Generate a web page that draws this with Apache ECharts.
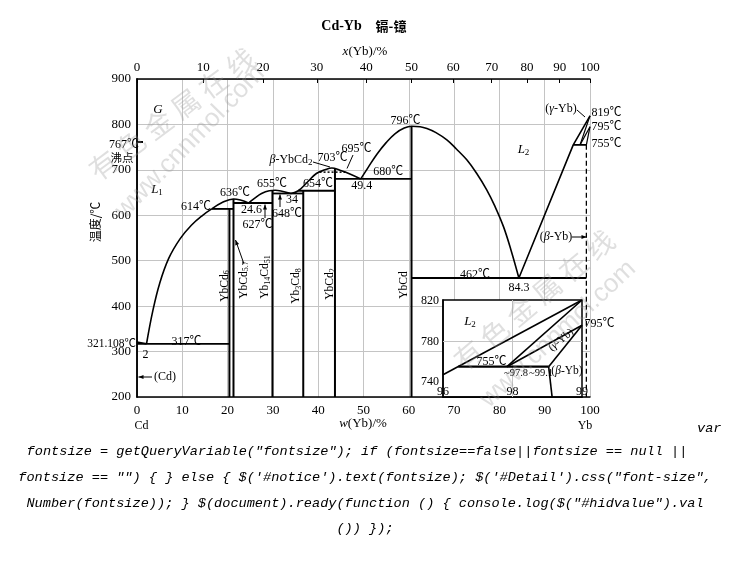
<!DOCTYPE html>
<html><head><meta charset="utf-8">
<script src="https://cdn.jsdelivr.net/npm/echarts/dist/echarts.min.js"></script>
<style>html,body{margin:0;padding:0;background:#fff}#c{width:730px;height:578px}</style>
</head><body><div id="c"></div>
<script>
// ---------- DATA (w(Yb) %, temperature °C) ----------
const topTickLabels = [0, 10, 20, 30, 40, 50, 60, 70, 80, 90, 100];          // x(Yb) at.%
const topTickPositions = [0, 14.6, 27.8, 39.7, 50.6, 60.6, 69.8, 78.3, 86.1, 93.3, 100]; // same ticks on w(Yb) scale

const liquidusCd = [[0, 321.1], [2.1, 317]];
const liquidusL1 = [[2.1, 317], [3.5, 390], [5, 450], [7, 505], [9.5, 548], [12, 578], [14.5, 600], [16.5, 614]];
const liquidusYbCd57 = [[16.5, 614], [18.8, 628], [21.3, 636], [23, 633], [24.6, 627]];
const liquidusYb14Cd51 = [[24.6, 627], [26, 638], [27.5, 648], [29.2, 654], [30.5, 655], [32, 653], [34, 648]];
const liquidusYbCd2 = [[34, 648], [35.6, 654], [37.8, 675], [39.6, 692], [41.5, 700], [43, 704], [44.8, 699], [47, 691], [49.4, 680]];
const liquidusYbCd = [[49.4, 680], [51, 705], [53, 735], [55, 760], [57, 780], [59, 792], [60.6, 796], [62.5, 795], [64, 791], [66, 782], [68.4, 766], [70.5, 746], [72.8, 722], [75, 692], [77.2, 656], [79, 620], [80.9, 575], [82.6, 522], [84.3, 462]];
const liquidusYb = [[84.3, 462], [96.3, 755], [100, 819]];
const gammaSolidus = [[97.8, 755], [100, 819]];
const gammaSolvus = [[97.8, 755], [100, 795]];
const betaGamma = [[99.2, 755], [100, 795]];
const betaSolvus = [[99.2, 755], [99.2, 200]];
const transition695 = [[40.3, 695], [46, 695]];

const compoundNames = ['YbCd6', 'YbCd5.7', 'Yb14Cd51', 'Yb3Cd8', 'YbCd2', 'YbCd'];
const compoundW = [20.4, 21.3, 29.9, 36.7, 43.7, 60.6];
const compoundTop = [614, 636, 655, 654, 704, 796];

const invariantT = [317, 614, 627, 648, 654, 680, 462, 755];
const invariantFrom = [0, 16.5, 21.3, 29.9, 35.6, 43.7, 60.6, 96.3];
const invariantTo = [20.4, 21.3, 29.9, 36.7, 43.7, 60.6, 99.2, 99.2];

// inset (schematic composition axis 96 / 98 / 99)
const insetXTickLabels = ['96', '98', '99'];
const insetYTicks = [740, 780, 820];
const insetLiquidus = [[0, 747], [2, 821]];
const inset755 = [[0.22, 755], [1.52, 755]];
const insetGammaSolidus = [[0.92, 755], [2, 821]];
const insetGammaSolvus = [[0.92, 755], [2, 796]];
const insetBetaGamma = [[1.52, 755], [2, 796]];
const insetBetaSolvus = [[1.52, 755], [1.57, 725]];

// ---------- STYLE / BUILD ----------
const SERIF = "'Liberation Serif','Times New Roman','Noto Sans CJK SC',serif";
const CJK = "'Noto Sans CJK SC','Liberation Serif',sans-serif";
const MONO = "'Liberation Mono','DejaVu Sans Mono',monospace";
const GRID_C = '#c4c4c4';

function ln(data, o) {
  o = o || {};
  return {
    type: 'line', data: data, xAxisIndex: o.xi || 0, yAxisIndex: o.yi || 0,
    symbol: 'none', showSymbol: false, silent: true, animation: false,
    smooth: o.smooth || false, z: o.z || 3,
    lineStyle: { color: '#000', width: o.w || 1.6, type: o.type || 'solid' }
  };
}

const series = [];
series.push(ln(liquidusCd));
series.push(ln(liquidusL1, { smooth: 0.4 }));
series.push(ln(liquidusYbCd57, { smooth: 0.4 }));
series.push(ln(liquidusYb14Cd51, { smooth: 0.4 }));
series.push(ln(liquidusYbCd2, { smooth: 0.4 }));
series.push(ln(liquidusYbCd, { smooth: 0.4 }));
series.push(ln(liquidusYb));
series.push(ln(gammaSolidus, { w: 1.2 }));
series.push(ln(gammaSolvus, { w: 1.2 }));
series.push(ln(betaGamma, { w: 1.2 }));
series.push(ln(betaSolvus, { w: 1.3, type: [5, 3] }));
series.push(ln(transition695, { w: 1.5, type: [2, 2] }));
compoundW.forEach(function (w, i) { series.push(ln([[w, 200], [w, compoundTop[i]]], { w: 2 })); });
invariantT.forEach(function (t, i) { series.push(ln([[invariantFrom[i], t], [invariantTo[i], t]], { w: 1.8 })); });

// inset series
const insetOpt = { xi: 2, yi: 2, z: 8, w: 1.6 };
const insetLines = [insetLiquidus, inset755, insetGammaSolidus, insetGammaSolvus, insetBetaGamma, insetBetaSolvus];
insetLines.forEach(function (d, i) {
  const s = ln(d, Object.assign({}, insetOpt, { w: i === 1 ? 2.2 : 1.6 }));
  if (i === 0) {
    s.markLine = {
      silent: true, symbol: 'none', animation: false, z: 7,
      label: { show: false },
      lineStyle: { color: GRID_C, width: 1, type: 'solid' },
      data: [{ yAxis: insetYTicks[1] }, { xAxis: 1 }]
    };
  }
  series.push(s);
});

// ---------- graphic helpers ----------
function rich(fs) {
  return {
    s: { fontSize: Math.round(fs * 0.72), fontFamily: SERIF, fill: '#000', verticalAlign: 'bottom', lineHeight: Math.round(fs * 0.8) },
    i: { fontSize: fs, fontFamily: SERIF, fontStyle: 'italic', fill: '#000', lineHeight: fs + 2 },
    n: { fontSize: fs, fontFamily: SERIF, fill: '#000', lineHeight: fs + 2 }
  };
}
function T(x, y, text, o) {
  o = o || {};
  const fs = o.fs || 12;
  return {
    type: 'text', x: x, y: y, rotation: o.rot || 0, z: o.z || 20, silent: true,
    style: {
      text: text, fill: o.fill || '#000', fontSize: fs, fontFamily: o.ff || SERIF,
      fontStyle: o.it ? 'italic' : 'normal', fontWeight: o.bold ? 'bold' : 'normal',
      align: o.align || 'center', verticalAlign: 'middle', lineHeight: fs + 2,
      rich: rich(fs)
    }
  };
}
function arrow(x1, y1, x2, y2, head) {
  const els = [{ type: 'line', z: 20, silent: true, shape: { x1: x1, y1: y1, x2: x2, y2: y2 }, style: { stroke: '#000', lineWidth: 1 } }];
  if (head) {
    const a = Math.atan2(y2 - y1, x2 - x1), L = 5, W = 2;
    els.push({
      type: 'polygon', z: 20, silent: true,
      shape: { points: [[x2, y2], [x2 - L * Math.cos(a) + W * Math.sin(a), y2 - L * Math.sin(a) - W * Math.cos(a)], [x2 - L * Math.cos(a) - W * Math.sin(a), y2 - L * Math.sin(a) + W * Math.cos(a)]] },
      style: { fill: '#000' }
    });
  }
  return els;
}

const WM = 'rgba(150,150,150,0.3)';
let graphics = [
  // watermarks
  T(172, 114, '有 色 金 属 在 线', { fs: 28, ff: CJK, fill: WM, rot: 0.64, z: 30 }),
  T(190, 142, 'www.cnnmol.com', { fs: 26, ff: "'Liberation Sans',sans-serif", fill: WM, rot: 0.8, z: 30 }),
  T(534, 300, '有 色 金 属 在 线', { fs: 28, ff: CJK, fill: WM, rot: 0.7, z: 30 }),
  T(558, 334, 'www.cnnmol.com', { fs: 26, ff: "'Liberation Sans',sans-serif", fill: WM, rot: 0.75, z: 30 }),

  // title & axis names
  T(341.5, 26, 'Cd-Yb', { fs: 14, bold: true }),
  T(391, 26, '镉-镱', { fs: 13, ff: CJK, bold: true }),
  T(365, 51.5, '{i|x}{n|(Yb)/%}', { fs: 13 }),
  T(363, 423.5, '{i|w}{n|(Yb)/%}', { fs: 13 }),
  T(95, 222, '温度/℃', { fs: 12, ff: CJK, rot: Math.PI / 2 }),
  T(141.5, 426, 'Cd', { fs: 12 }),
  T(585, 426, 'Yb', { fs: 12 }),

  // left side labels
  T(124, 145, '767℃', { fs: 12 }),
  T(122, 158, '沸点', { fs: 11.5, ff: CJK }),
  T(158, 109.5, 'G', { fs: 13, it: true }),
  T(157, 190, '{i|L}{s|1}', { fs: 13 }),
  T(136, 344, '321.108℃', { fs: 11.5, align: 'right' }),
  T(145.5, 354.5, '2', { fs: 12 }),
  T(186.5, 341.5, '317℃', { fs: 12 }),
  T(165, 377, '(Cd)', { fs: 12 }),

  // invariant labels
  T(196, 207, '614℃', { fs: 12 }),
  T(235, 193, '636℃', { fs: 12 }),
  T(272, 183.5, '655℃', { fs: 12 }),
  T(251.5, 209.5, '24.6', { fs: 12 }),
  T(257.5, 225, '627℃', { fs: 12 }),
  T(287, 213.5, '648℃', { fs: 12 }),
  T(292, 199.5, '34', { fs: 12 }),
  T(318, 184.3, '654℃', { fs: 12 }),
  T(291, 160, '{i|β}{n|-YbCd}{s|2}', { fs: 12 }),
  T(332.5, 158.3, '703℃', { fs: 12 }),
  T(356.5, 149.3, '695℃', { fs: 12 }),
  T(361.7, 186, '49.4', { fs: 12 }),
  T(388.3, 171.7, '680℃', { fs: 12 }),
  T(405.5, 120.7, '796℃', { fs: 12 }),
  T(523.5, 150, '{i|L}{s|2}', { fs: 13 }),
  T(561, 108.5, '({i|γ}{n|-Yb)}', { fs: 12 }),
  T(591.5, 113, '819℃', { fs: 12, align: 'left' }),
  T(591.5, 126.5, '795℃', { fs: 12, align: 'left' }),
  T(591.5, 144, '755℃', { fs: 12, align: 'left' }),
  T(556, 237, '({i|β}{n|-Yb)}', { fs: 12 }),
  T(475, 275, '462℃', { fs: 12 }),
  T(519, 287.5, '84.3', { fs: 12 }),

  // compound labels (rotated)
  T(224.5, 286, '{n|YbCd}{s|6}', { fs: 11.5, rot: Math.PI / 2 }),
  T(243.5, 280, '{n|YbCd}{s|5.7}', { fs: 11.5, rot: Math.PI / 2 }),
  T(265, 277, '{n|Yb}{s|14}{n|Cd}{s|51}', { fs: 11.5, rot: Math.PI / 2 }),
  T(296, 286, '{n|Yb}{s|3}{n|Cd}{s|8}', { fs: 11.5, rot: Math.PI / 2 }),
  T(330, 284, '{n|YbCd}{s|2}', { fs: 11.5, rot: Math.PI / 2 }),
  T(403.5, 285, 'YbCd', { fs: 11.5, rot: Math.PI / 2 }),

  // inset labels
  T(470, 322, '{i|L}{s|2}', { fs: 13 }),
  T(491.5, 361.5, '755℃', { fs: 12 }),
  T(516, 373.5, '~97.8', { fs: 10.5 }),
  T(541, 373.5, '~99.1', { fs: 10.5 }),
  T(567, 371, '({i|β}{n|-Yb)}', { fs: 11.5 }),
  T(561, 340, '({i|γ}{n|-Yb)}', { fs: 11, rot: 0.68 }),
  T(584.5, 323.5, '795℃', { fs: 12, align: 'left' }),

  // stray page text
  T(697, 428, 'var', { fs: 13.6, it: true, ff: MONO, align: 'left' }),
  T(357, 451.5, 'fontsize = getQueryVariable("fontsize"); if (fontsize==false||fontsize == null ||', { fs: 13.6, it: true, ff: MONO }),
  T(365, 477.5, 'fontsize == "") { } else { $(\'#notice\').text(fontsize); $(\'#Detail\').css("font-size",', { fs: 13.6, it: true, ff: MONO }),
  T(365, 503, 'Number(fontsize)); } $(document).ready(function () { console.log($("#hidvalue").val', { fs: 13.6, it: true, ff: MONO }),
  T(365, 528.5, '()) });', { fs: 13.6, it: true, ff: MONO })
];
graphics = graphics
  .concat(arrow(244, 264, 235.5, 240, true))
  .concat(arrow(265, 218, 265, 204.5, true))
  .concat(arrow(280, 207, 280, 194.5, true))
  .concat(arrow(313, 162, 330, 167, false))
  .concat(arrow(353, 155, 347, 168.5, false))
  .concat(arrow(577, 110, 585, 117, false))
  .concat(arrow(572, 237, 586.5, 237, true))
  .concat(arrow(152, 377, 138.5, 377, true))
  .concat([{ type: 'line', z: 20, silent: true, shape: { x1: 137, y1: 142, x2: 143, y2: 142 }, style: { stroke: '#000', lineWidth: 2 } }]);

const axisLabelBase = { color: '#000', fontFamily: SERIF, fontSize: 13 };
const option = {
  animation: false,
  backgroundColor: '#fff',
  grid: [
    { left: 137, top: 79, width: 453, height: 318 },
    { left: 443, top: 300, width: 139, height: 97, show: true, backgroundColor: '#fff', borderColor: '#000', borderWidth: 1.5, z: 5 }
  ],
  xAxis: [
    { gridIndex: 0, type: 'value', min: 0, max: 100, interval: 10, position: 'bottom',
      axisLine: { lineStyle: { color: '#000', width: 1.5 } }, axisTick: { show: false },
      axisLabel: Object.assign({ margin: 7 }, axisLabelBase),
      splitLine: { show: true, lineStyle: { color: GRID_C, width: 1 } } },
    { gridIndex: 0, type: 'value', min: 0, max: 100, position: 'top',
      axisLine: { lineStyle: { color: '#000', width: 1.5 } },
      axisTick: { show: true, inside: true, length: 4, customValues: topTickPositions, lineStyle: { color: '#000', width: 1 } },
      axisLabel: Object.assign({ margin: 5, customValues: topTickPositions, formatter: function (v) {
        const i = topTickPositions.findIndex(function (p) { return Math.abs(p - v) < 1e-6; });
        return i >= 0 ? String(topTickLabels[i]) : '';
      } }, axisLabelBase),
      splitLine: { show: false } },
    { gridIndex: 1, type: 'value', min: 0, max: 2, interval: 1, z: 6,
      axisLine: { lineStyle: { color: '#000', width: 1.5 } }, axisTick: { show: false },
      axisLabel: Object.assign({}, axisLabelBase, { fontSize: 12, inside: true, margin: -1, formatter: function (v) { return insetXTickLabels[Math.round(v)]; } }),
      splitLine: { show: false } }
  ],
  yAxis: [
    { gridIndex: 0, type: 'value', min: 200, max: 900, interval: 100, position: 'left',
      axisLine: { show: true, lineStyle: { color: '#000', width: 1.5 } }, axisTick: { show: false },
      axisLabel: Object.assign({ margin: 6 }, axisLabelBase),
      splitLine: { show: true, lineStyle: { color: GRID_C, width: 1 } } },
    { gridIndex: 0, type: 'value', min: 200, max: 900, position: 'right',
      axisLine: { show: true, lineStyle: { color: '#000', width: 1.5 } }, axisTick: { show: false },
      axisLabel: { show: false }, splitLine: { show: false } },
    { gridIndex: 1, type: 'value', min: 725, max: 821, z: 6,
      axisLine: { show: true, lineStyle: { color: '#000', width: 1.5 } }, axisTick: { show: false },
      axisLabel: Object.assign({}, axisLabelBase, { fontSize: 12, margin: 4, customValues: insetYTicks }),
      splitLine: { show: false } }
  ],
  series: series,
  graphic: { elements: graphics }
};
const chart = echarts.init(document.getElementById('c'), null, { renderer: 'canvas' });
chart.setOption(option);
</script>
</body></html>
